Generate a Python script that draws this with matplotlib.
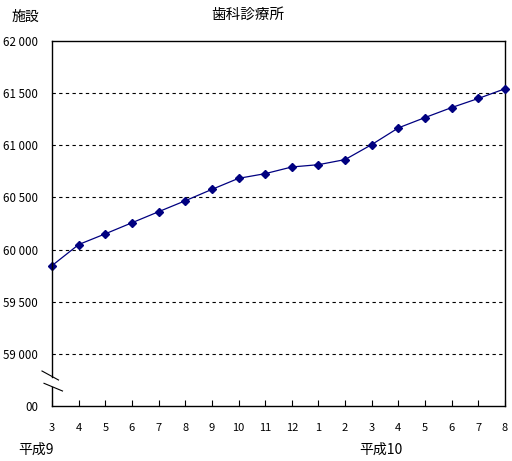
import matplotlib
matplotlib.use("Agg")
import matplotlib.pyplot as plt
from matplotlib.lines import Line2D

plt.rcParams['font.family'] = ['Noto Sans CJK JP', 'DejaVu Sans']

months = ["3", "4", "5", "6", "7", "8", "9", "10", "11", "12",
          "1", "2", "3", "4", "5", "6", "7", "8"]
values = [59846, 60048, 60151, 60257, 60363, 60468, 60577, 60683, 60728,
          60792, 60814, 60863, 61007, 61167, 61266, 61362, 61449, 61542]
ytick_values = [58500, 59000, 59500, 60000, 60500, 61000, 61500, 62000]
ytick_labels = ["00", "59 000", "59 500", "60 000", "60 500", "61 000", "61 500", "62 000"]
title = "歯科診療所"
unit = "施設"
era1 = "平成9"
era2 = "平成10"

W, H = 512, 461
fig = plt.figure(figsize=(W/100, H/100), dpi=100)
ax = fig.add_axes([52/W, 1-406/H, 453/W, 365/H])

x = list(range(len(months)))
ax.plot(x, values, color="#000080", lw=0.9, marker="D", markersize=4.5,
        markerfacecolor="#000080", markeredgecolor="#000080", clip_on=False, zorder=5)

ax.set_xlim(0, len(months)-1)
ax.set_ylim(58500, 62000)
ax.set_xticks(x)
ax.set_xticklabels(months, fontsize=8)
ax.set_yticks(ytick_values)
ax.set_yticklabels(ytick_labels, fontsize=8.3)
ax.tick_params(axis='x', direction='in', length=4, pad=12, width=0.8)
ax.tick_params(axis='y', length=0, pad=10)

for v in ytick_values[1:-1]:
    ax.axhline(v, color="black", lw=0.8, ls=(0, (3, 3)))

for s in ax.spines.values():
    s.set_linewidth(1.0)
    s.set_color("black")
ax.spines['left'].set_visible(False)

def fx(px):
    return px / W

def fy(py):
    return 1 - py / H

# left axis drawn in two pieces with a break
fig.add_artist(Line2D([fx(52), fx(52)], [fy(41), fy(376.5)], color="black", lw=1.0))
fig.add_artist(Line2D([fx(52), fx(52)], [fy(386.7), fy(406)], color="black", lw=1.0))
# break marks
fig.add_artist(Line2D([fx(42), fx(58.5)], [fy(371), fy(380)], color="black", lw=0.8))
fig.add_artist(Line2D([fx(44), fx(62.5)], [fy(383.3), fy(391)], color="black", lw=0.8))

fig.text(fx(248), fy(15), title, ha="center", va="center", fontsize=10.5)
fig.text(fx(25), fy(17), unit, ha="center", va="center", fontsize=10)
fig.text(fx(36), fy(450), era1, ha="center", va="center", fontsize=10)
fig.text(fx(381), fy(450), era2, ha="center", va="center", fontsize=10)

fig.savefig("out.png", dpi=100)
